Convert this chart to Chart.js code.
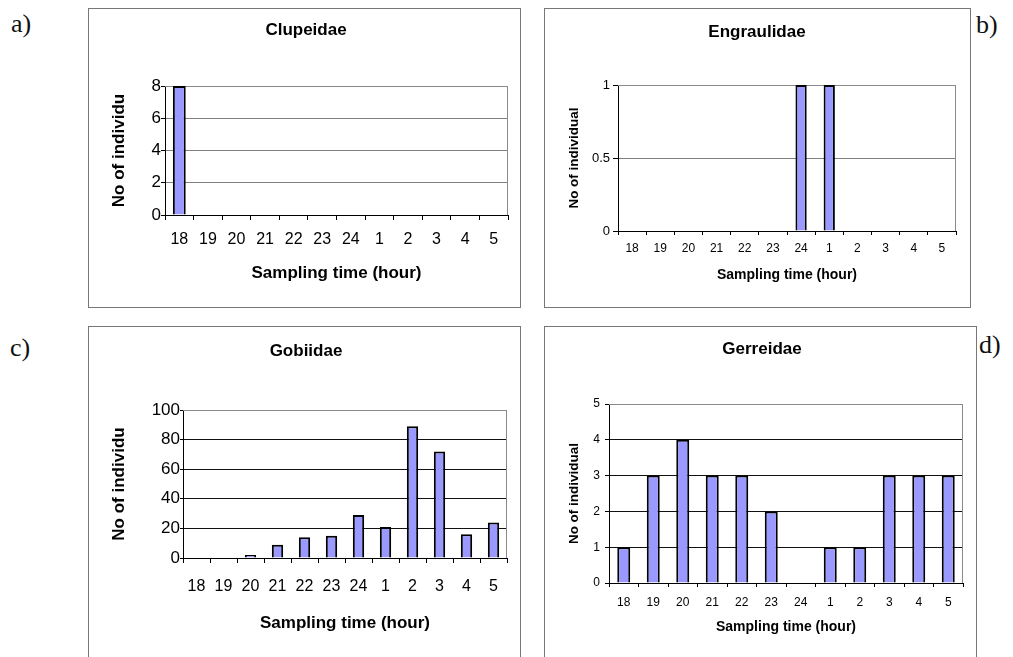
<!DOCTYPE html>
<html>
<head>
<meta charset="utf-8">
<script src="https://cdn.jsdelivr.net/npm/chart.js@4/dist/chart.umd.min.js"></script>
<style>
    html, body {
        margin: 0;
        padding: 0;
        background: #fff;
    }
    body {
        position: relative;
        width: 1013px;
        height: 657px;
        overflow: hidden;
    }
    .frame {
        position: absolute;
        box-sizing: border-box;
        border: 1px solid #777;
    }
    canvas {
        position: absolute;
    }
    .tag {
        position: absolute;
        font-family: "Liberation Serif", "DejaVu Serif", serif;
        font-size: 26px;
        line-height: 1;
        color: #111;
    }
</style>
</head>
<body>
<div class="tag" style="left:11px;top:11px">a)</div>
<div class="tag" style="left:976px;top:12px">b)</div>
<div class="tag" style="left:10px;top:335px">c)</div>
<div class="tag" style="left:979px;top:332px">d)</div>
<script>
const hours = ["18", "19", "20", "21", "22", "23", "24", "1", "2", "3", "4", "5"];

const clupeidaeCounts = [8, 0, 0, 0, 0, 0, 0, 0, 0, 0, 0, 0];
const engraulidaeCounts = [0, 0, 0, 0, 0, 0, 1, 1, 0, 0, 0, 0];
const gobiidaeCounts = [0, 0, 2, 9, 14, 15, 29, 21, 89, 72, 16, 24];
const gerreidaeCounts = [1, 3, 4, 3, 3, 2, 0, 1, 1, 3, 3, 3];

const clupeidaeTicks = [0, 2, 4, 6, 8];
const engraulidaeTicks = [0, 0.5, 1];
const gobiidaeTicks = [0, 20, 40, 60, 80, 100];
const gerreidaeTicks = [0, 1, 2, 3, 4, 5];

const xTitle = "Sampling time (hour)";

Chart.defaults.font.family = "'Liberation Sans', Arial, sans-serif";
Chart.defaults.color = "#000";

const plotFrame = {
    id: "plotFrame",
    beforeDatasetsDraw(chart) {
        const { ctx, chartArea } = chart;
        ctx.save();
        ctx.strokeStyle = "#8a8a8a";
        ctx.lineWidth = 1;
        ctx.beginPath();
        ctx.moveTo(chartArea.left, chartArea.top + 0.5);
        ctx.lineTo(chartArea.right - 0.5, chartArea.top + 0.5);
        ctx.lineTo(chartArea.right - 0.5, chartArea.bottom);
        ctx.stroke();
        ctx.restore();
    },
};

function makePanel(cfg) {
    const [left, top, width, height] = cfg.box;

    const frame = document.createElement("div");
    frame.className = "frame";
    frame.style.left = `${left}px`;
    frame.style.top = `${top}px`;
    frame.style.width = `${width}px`;
    frame.style.height = `${height}px`;
    document.body.appendChild(frame);

    const canvas = document.createElement("canvas");
    canvas.width = width;
    canvas.height = height;
    canvas.style.left = `${left}px`;
    canvas.style.top = `${top}px`;
    document.body.appendChild(canvas);

    const yMax = cfg.yTicks[cfg.yTicks.length - 1];

    new Chart(canvas, {
        type: "bar",
        data: {
            labels: hours,
            datasets: [
                {
                    data: cfg.values,
                    backgroundColor: "#9999ff",
                    borderColor: "#000",
                    borderWidth: 2,
                    barPercentage: cfg.barPct,
                    categoryPercentage: 1,
                },
            ],
        },
        options: {
            responsive: false,
            animation: false,
            layout: {
                padding: { left: cfg.padLeft, right: cfg.padRight, top: 0, bottom: 0 },
            },
            plugins: {
                legend: { display: false },
                tooltip: { enabled: false },
                title: {
                    display: true,
                    text: cfg.title,
                    color: "#000",
                    font: { size: 17, weight: "bold" },
                    padding: { top: cfg.titleTop, bottom: cfg.titleBottom },
                },
            },
            scales: {
                x: {
                    grid: {
                        offset: true,
                        drawOnChartArea: false,
                        drawTicks: true,
                        tickLength: cfg.xTickLen,
                        color: "#000",
                    },
                    border: { color: "#000", width: 1 },
                    ticks: {
                        autoSkip: false,
                        maxRotation: 0,
                        padding: cfg.xTickPad,
                        color: "#000",
                        font: { size: cfg.xTickSize },
                    },
                    title: {
                        display: true,
                        text: xTitle,
                        color: "#000",
                        font: { size: cfg.xTitleSize, weight: "bold" },
                        padding: { top: 0, bottom: cfg.xTitleBottom },
                    },
                    afterFit(scale) {
                        scale.height = cfg.xHeight;
                    },
                },
                y: {
                    min: 0,
                    max: yMax,
                    afterBuildTicks(scale) {
                        scale.ticks = cfg.yTicks.map((value) => ({ value }));
                    },
                    grid: {
                        drawTicks: true,
                        tickLength: cfg.yTickLen,
                        tickColor: "#000",
                        color(context) {
                            const value = context.tick?.value;

                            if (value === yMax) {
                                return "#8a8a8a";
                            }

                            return value === 0 ? "#000" : cfg.gridColor;
                        },
                    },
                    border: { color: "#000", width: 1 },
                    ticks: {
                        padding: cfg.yTickPad,
                        color: "#000",
                        font: { size: cfg.yTickSize },
                        callback(value) {
                            return String(value);
                        },
                    },
                    title: {
                        display: true,
                        text: cfg.yTitle,
                        color: "#000",
                        font: { size: cfg.yTitleSize, weight: "bold" },
                        padding: { top: cfg.yTitleTop, bottom: 0 },
                    },
                    afterFit(scale) {
                        scale.width = cfg.yWidth;
                    },
                },
            },
        },
        plugins: [plotFrame],
    });
}

makePanel({
    box: [88, 8, 433, 300],
    title: "Clupeidae",
    values: clupeidaeCounts,
    yTicks: clupeidaeTicks,
    yTitle: "No of individu",
    barPct: 0.45,
    padLeft: 16,
    padRight: 13,
    titleTop: 11.8,
    titleBottom: 45.8,
    yWidth: 61,
    yTitleTop: 4.8,
    yTitleSize: 17,
    yTickSize: 17,
    yTickLen: 4,
    yTickPad: 0,
    xHeight: 93,
    xTickLen: 5,
    xTickPad: 10,
    xTickSize: 16,
    xTitleSize: 17,
    xTitleBottom: 24.8,
    gridColor: "#808080",
});

makePanel({
    box: [544, 8, 427, 300],
    title: "Engraulidae",
    values: engraulidaeCounts,
    yTicks: engraulidaeTicks,
    yTitle: "No of individual",
    barPct: 0.4,
    padLeft: 14,
    padRight: 15,
    titleTop: 13.8,
    titleBottom: 42.8,
    yWidth: 60,
    yTitleTop: 8.2,
    yTitleSize: 13.5,
    yTickSize: 13,
    yTickLen: 5,
    yTickPad: 3,
    xHeight: 77,
    xTickLen: 4,
    xTickPad: 6.8,
    xTickSize: 12,
    xTitleSize: 14,
    xTitleBottom: 24.6,
    gridColor: "#808080",
});

makePanel({
    box: [88, 326, 433, 340],
    title: "Gobiidae",
    values: gobiidaeCounts,
    yTicks: gobiidaeTicks,
    yTitle: "No of individu",
    barPct: 0.42,
    padLeft: 17,
    padRight: 14,
    titleTop: 14.8,
    titleBottom: 48.8,
    yWidth: 78,
    yTitleTop: 3.8,
    yTitleSize: 17,
    yTickSize: 17,
    yTickLen: 3,
    yTickPad: 0,
    xHeight: 108,
    xTickLen: 5,
    xTickPad: 13.5,
    xTickSize: 16,
    xTitleSize: 17,
    xTitleBottom: 32.8,
    gridColor: "#111",
});

makePanel({
    box: [544, 326, 433, 340],
    title: "Gerreidae",
    values: gerreidaeCounts,
    yTicks: gerreidaeTicks,
    yTitle: "No of individual",
    barPct: 0.44,
    padLeft: 17,
    padRight: 14,
    titleTop: 12.8,
    titleBottom: 44.8,
    yWidth: 48,
    yTitleTop: 5.2,
    yTitleSize: 13.5,
    yTickSize: 12,
    yTickLen: 4,
    yTickPad: 5,
    xHeight: 83,
    xTickLen: 4,
    xTickPad: 8.8,
    xTickSize: 12,
    xTitleSize: 14,
    xTitleBottom: 30.6,
    gridColor: "#111",
});
</script>
</body>
</html>
